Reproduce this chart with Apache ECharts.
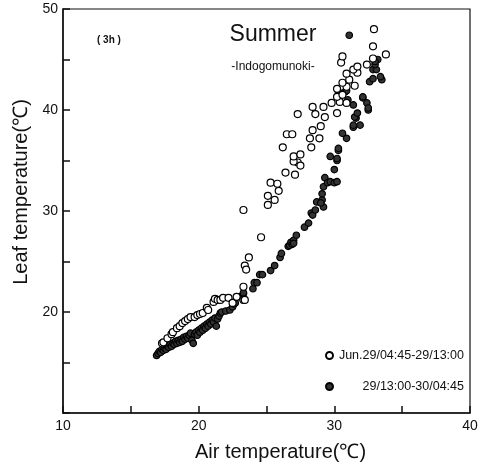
<!DOCTYPE html>
<html><head><meta charset="utf-8">
<script src="https://cdn.jsdelivr.net/npm/echarts@6/dist/echarts.min.js"></script>
<style>html,body{margin:0;padding:0;background:#fff}#c{width:481px;height:464px}</style>
</head><body><div id="c"></div>
<script>
const seriesNames = ["Jun.29/04:45-29/13:00", "29/13:00-30/04:45"];
const xTickLabels = [10, 20, 30, 40];
const yTickLabels = [20, 30, 40, 50];
const morning = [[17.3,16.9],[17.4,17.0],[17.7,17.4],[18.0,17.8],[18.1,18.0],[18.4,18.4],[18.6,18.6],[18.8,18.9],[19.0,19.1],[19.2,19.3],[19.4,19.5],[19.7,19.5],[19.9,19.7],[20.1,19.8],[20.3,19.9],[20.6,20.4],[20.7,20.2],[21.1,21.0],[21.2,21.3],[21.4,21.2],[21.6,21.2],[21.8,21.4],[22.2,21.4],[22.5,20.9],[22.8,21.5],[23.3,21.2],[23.4,21.2],[23.3,22.5],[23.4,24.6],[23.5,24.2],[23.7,25.4],[24.6,27.4],[23.3,30.1],[25.1,30.6],[25.6,31.1],[25.1,31.5],[25.9,32.0],[25.3,32.8],[25.8,32.7],[26.4,33.8],[27.1,33.6],[27.3,34.8],[27.0,34.9],[27.5,34.5],[27.0,35.4],[27.5,35.6],[26.2,36.3],[28.3,36.3],[28.2,37.2],[28.9,37.2],[26.5,37.6],[26.9,37.6],[28.4,38.0],[29.0,38.4],[27.3,39.6],[28.6,39.6],[29.3,39.3],[28.4,40.3],[29.2,40.3],[30.2,39.7],[29.8,40.7],[30.4,40.8],[30.9,40.7],[30.2,41.3],[30.6,41.5],[30.2,42.1],[30.9,42.3],[31.5,42.4],[30.6,42.7],[31.1,43.0],[30.9,43.6],[31.7,43.7],[31.4,44.0],[31.7,44.3],[32.4,44.5],[30.5,44.7],[30.6,45.3],[32.85,45.1],[33.8,45.5],[32.85,46.3],[32.92,48.0]];
const night = [[16.9,15.7],[17.0,15.9],[17.1,16.1],[17.2,16.0],[17.3,16.3],[17.4,16.2],[17.5,16.4],[17.6,16.3],[17.7,16.6],[17.8,16.5],[17.9,16.8],[18.0,16.6],[18.1,16.9],[18.2,16.8],[18.3,17.1],[18.4,16.9],[18.5,17.2],[18.6,17.0],[18.7,17.3],[18.8,17.1],[18.9,17.5],[19.0,17.3],[19.1,17.6],[19.2,17.4],[19.3,17.7],[19.4,17.9],[19.5,17.2],[19.6,16.9],[19.7,17.8],[19.8,18.0],[19.9,17.7],[20.0,18.2],[20.1,18.0],[20.2,18.4],[20.3,18.2],[20.4,18.6],[20.5,18.4],[20.6,18.8],[20.7,18.6],[20.8,19.0],[20.9,18.8],[21.0,19.2],[21.1,19.0],[21.2,19.4],[21.3,18.6],[21.4,19.3],[21.5,19.6],[21.6,19.9],[21.7,20.0],[22.0,20.1],[22.3,20.2],[22.5,20.5],[22.6,20.8],[22.7,20.9],[23.0,21.5],[23.3,21.8],[23.3,21.9],[24.0,22.3],[24.1,22.9],[24.3,22.9],[24.5,23.7],[24.7,23.7],[25.3,24.1],[25.6,24.6],[26.0,25.4],[26.1,25.8],[26.6,26.5],[26.7,26.6],[26.8,26.9],[27.0,27.1],[26.9,26.7],[27.2,27.6],[27.0,26.8],[27.8,28.4],[28.1,28.8],[28.3,29.8],[28.4,29.6],[28.6,30.1],[28.7,30.9],[29.1,31.1],[29.2,30.4],[29.0,30.8],[29.1,31.7],[29.2,32.4],[29.3,33.3],[29.5,32.8],[29.7,32.9],[30.0,32.8],[30.2,32.9],[30.0,34.1],[30.2,35.0],[29.7,35.4],[30.2,35.2],[30.3,36.0],[30.3,36.2],[30.9,37.2],[30.6,37.7],[31.4,38.3],[31.4,38.5],[31.9,38.5],[31.6,39.2],[31.5,39.3],[31.7,39.7],[31.4,40.5],[31.0,41.0],[30.3,41.8],[30.8,41.8],[30.9,41.9],[32.1,41.2],[32.4,40.7],[32.5,40.0],[32.5,40.2],[32.1,41.3],[32.6,42.8],[32.85,43.1],[33.5,43.0],[33.4,43.3],[32.85,44.0],[33.1,44.0],[33.0,44.5],[33.2,45.0],[33.0,44.8],[31.1,47.4]];

const FONT = 'Liberation Sans, Arial, sans-serif';
const chart = echarts.init(document.getElementById('c'), null, {renderer: 'canvas'});
chart.setOption({
  animation: false,
  backgroundColor: '#fff',
  textStyle: {fontFamily: FONT},
  title: [
    {text: 'Summer', left: 268, top: 18, textAlign: 'center', textStyle: {fontSize: 23, fontWeight: 'normal', color: '#111', fontFamily: FONT}},
    {text: '-Indogomunoki-', left: 268, top: 56, textAlign: 'center', textStyle: {fontSize: 12, fontWeight: 'normal', color: '#111', fontFamily: FONT}},
    {text: '( 3h )', left: 92, top: 30, textStyle: {fontSize: 10, fontWeight: 'bold', color: '#111', fontFamily: FONT}}
  ],
  legend: [
    {data: [seriesNames[0]], left: 320, top: 344, itemWidth: 7, itemHeight: 7, itemGap: 0,
     formatter: '{a|{name}}', textStyle: {rich: {a: {width: 126, align: 'right', fontSize: 12.5, color: '#111', fontFamily: FONT}}}},
    {data: [seriesNames[1]], left: 320, top: 375, itemWidth: 7, itemHeight: 7, itemGap: 0,
     formatter: '{a|{name}}', textStyle: {rich: {a: {width: 126, align: 'right', fontSize: 12.5, color: '#111', fontFamily: FONT}}}}
  ],
  grid: {left: 63, right: 11, top: 9, bottom: 51, show: true, borderColor: '#111', borderWidth: 1.2, containLabel: false, outerBoundsMode: 'none'},
  xAxis: {
    type: 'value', min: 10, max: 40, interval: 5,
    name: 'Air temperature(\u2103)', nameLocation: 'middle', nameGap: 29,
    nameTextStyle: {fontSize: 20, color: '#111', fontFamily: FONT, padding: [0, 0, 0, 28]},
    axisLine: {lineStyle: {color: '#111', width: 1.5}},
    axisTick: {inside: true, length: 7, lineStyle: {color: '#111', width: 1.5}},
    axisLabel: {fontSize: 14, color: '#111', margin: 6, fontFamily: FONT,
      formatter: v => xTickLabels.indexOf(v) >= 0 ? String(v) : ''},
    splitLine: {show: false}
  },
  yAxis: {
    type: 'value', min: 10, max: 50, interval: 5,
    name: 'Leaf temperature(\u2103)', nameLocation: 'middle', nameGap: 23,
    nameTextStyle: {fontSize: 20, color: '#111', fontFamily: FONT, padding: [0, 0, 0, 38]},
    axisLine: {lineStyle: {color: '#111', width: 1.5}},
    axisTick: {inside: true, length: 7, lineStyle: {color: '#111', width: 1.5}},
    axisLabel: {fontSize: 14, color: '#111', margin: 5, fontFamily: FONT,
      formatter: v => yTickLabels.indexOf(v) >= 0 ? String(v) : ''},
    splitLine: {show: false}
  },
  series: [
    {name: seriesNames[1], type: 'scatter', data: night, symbol: 'circle', symbolSize: 6.5,
     itemStyle: {color: '#333', borderColor: '#000', borderWidth: 1.2, opacity: 1}},
    {name: seriesNames[0], type: 'scatter', data: morning, symbol: 'circle', symbolSize: 7,
     itemStyle: {color: '#fff', borderColor: '#000', borderWidth: 1.2, opacity: 1}}
  ]
});
</script></body></html>
